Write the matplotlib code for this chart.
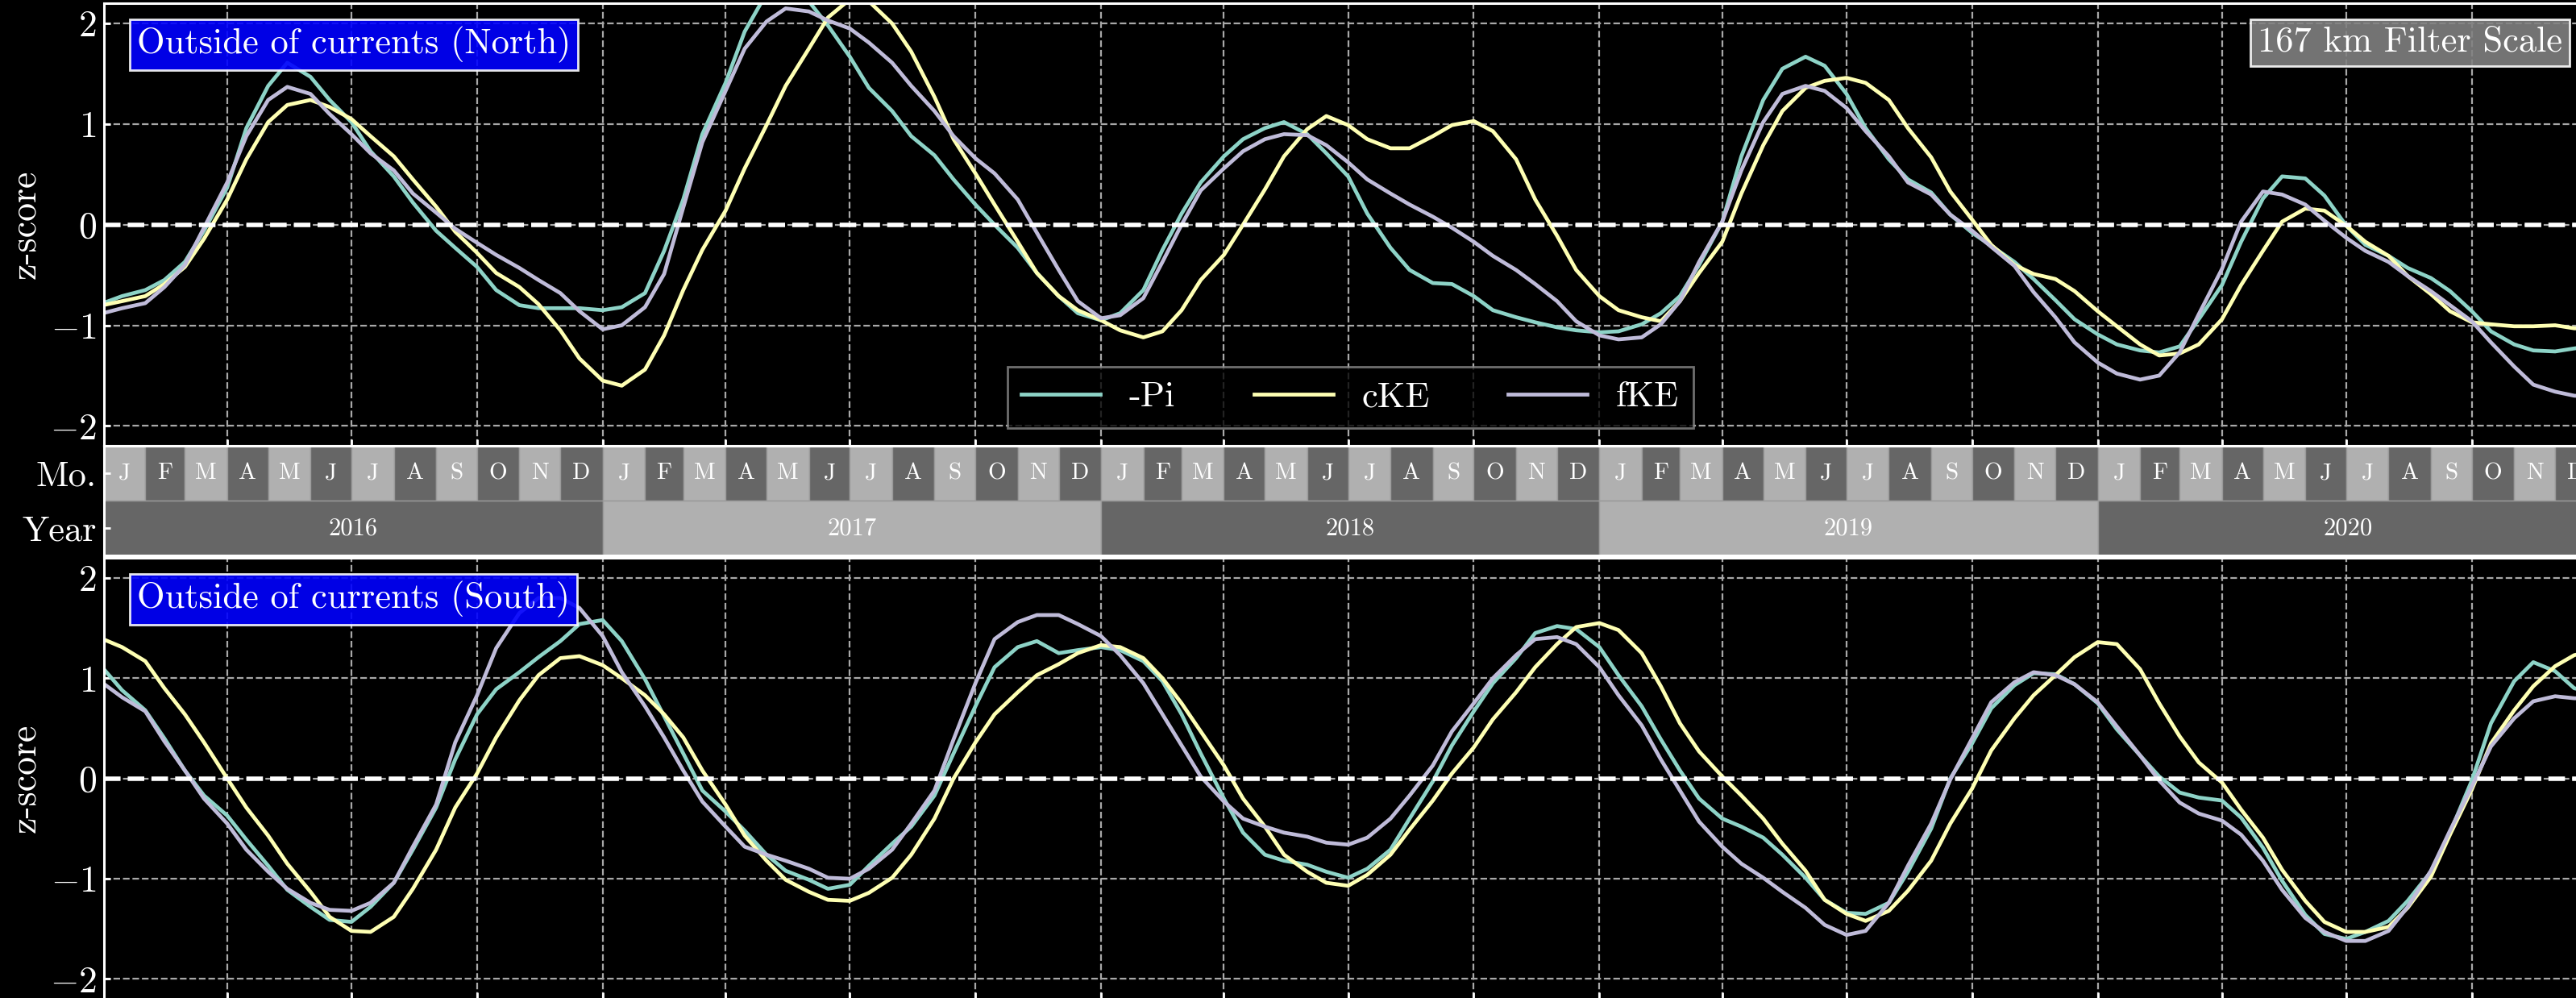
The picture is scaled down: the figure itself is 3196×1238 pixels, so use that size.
import numpy as np
import pandas as pd
import matplotlib
matplotlib.use("Agg")
import matplotlib.pyplot as plt
import matplotlib.dates as mdates
from matplotlib.ticker import FuncFormatter

plt.style.use("dark_background")
plt.rcParams["font.family"] = ["cmr10"]
plt.rcParams["mathtext.fontset"] = "cm"
plt.rcParams["axes.formatter.use_mathtext"] = True
plt.rcParams["axes.linewidth"] = 1.1

# Semi-monthly sample dates (1st and 15th of each month), Jan 2016 - Jan 2021
dates = pd.date_range("2016-01-01", periods=121, freq="SMS")

series_names = ["-Pi", "cKE", "fKE"]
series_colors = ["#8dd3c7", "#feffb3", "#bfbbd9"]

# ---- Outside of currents (North): z-scores, one row per half year (12 samples) ----
pi_north = [
    -0.78, -0.71, -0.65, -0.55, -0.37, -0.06, 0.37, 0.96, 1.38, 1.61, 1.47, 1.24,
    1.02, 0.73, 0.48, 0.22, -0.06, -0.23, -0.42, -0.65, -0.80, -0.83, -0.83, -0.83,
    -0.85, -0.82, -0.68, -0.26, 0.25, 0.90, 1.41, 1.92, 2.30, 2.35, 2.22, 1.98,
    1.67, 1.36, 1.13, 0.88, 0.69, 0.45, 0.20, 0.00, -0.23, -0.48, -0.71, -0.88,
    -0.95, -0.88, -0.65, -0.25, 0.11, 0.42, 0.68, 0.85, 0.96, 1.02, 0.90, 0.71,
    0.48, 0.11, -0.23, -0.45, -0.58, -0.59, -0.71, -0.85, -0.92, -0.97, -1.02, -1.05,
    -1.07, -1.06, -0.99, -0.88, -0.71, -0.40, 0.03, 0.68, 1.24, 1.55, 1.67, 1.58,
    1.30, 0.96, 0.65, 0.45, 0.32, 0.10, -0.08, -0.21, -0.37, -0.54, -0.75, -0.94,
    -1.09, -1.19, -1.25, -1.27, -1.21, -0.94, -0.60, -0.17, 0.26, 0.48, 0.46, 0.29,
    -0.01, -0.20, -0.31, -0.43, -0.53, -0.66, -0.86, -1.06, -1.19, -1.25, -1.26, -1.23,
    -1.20,
]
cke_north = [
    -0.80, -0.76, -0.71, -0.59, -0.42, -0.14, 0.25, 0.65, 1.02, 1.19, 1.24, 1.17,
    1.05, 0.88, 0.68, 0.45, 0.18, -0.07, -0.28, -0.48, -0.62, -0.79, -1.05, -1.33,
    -1.55, -1.60, -1.44, -1.10, -0.65, -0.25, 0.14, 0.56, 0.99, 1.38, 1.75, 2.06,
    2.24, 2.22, 2.00, 1.72, 1.27, 0.85, 0.51, 0.20, -0.17, -0.48, -0.71, -0.85,
    -0.95, -1.05, -1.12, -1.06, -0.85, -0.55, -0.30, 0.00, 0.35, 0.68, 0.95, 1.08,
    0.99, 0.85, 0.76, 0.76, 0.88, 0.99, 1.03, 0.93, 0.65, 0.25, -0.11, -0.45,
    -0.71, -0.85, -0.92, -0.96, -0.76, -0.48, -0.17, 0.31, 0.79, 1.13, 1.36, 1.43,
    1.46, 1.41, 1.24, 0.96, 0.67, 0.33, 0.05, -0.20, -0.40, -0.49, -0.54, -0.66,
    -0.86, -1.01, -1.19, -1.30, -1.28, -1.19, -0.94, -0.60, -0.26, 0.03, 0.16, 0.14,
    -0.01, -0.17, -0.31, -0.51, -0.69, -0.86, -0.97, -0.99, -1.01, -1.01, -1.00, -1.03,
    -1.03,
]
fke_north = [
    -0.88, -0.83, -0.78, -0.62, -0.40, -0.03, 0.42, 0.88, 1.24, 1.37, 1.30, 1.10,
    0.90, 0.71, 0.54, 0.31, 0.12, -0.04, -0.18, -0.30, -0.43, -0.55, -0.68, -0.86,
    -1.04, -1.00, -0.82, -0.49, 0.17, 0.82, 1.33, 1.75, 2.02, 2.15, 2.12, 2.03,
    1.95, 1.81, 1.61, 1.38, 1.13, 0.88, 0.66, 0.51, 0.25, -0.08, -0.45, -0.76,
    -0.93, -0.90, -0.73, -0.37, 0.00, 0.34, 0.56, 0.73, 0.85, 0.90, 0.89, 0.79,
    0.62, 0.45, 0.31, 0.20, 0.08, -0.03, -0.17, -0.31, -0.45, -0.59, -0.76, -0.96,
    -1.10, -1.14, -1.12, -0.99, -0.76, -0.37, 0.03, 0.54, 1.02, 1.30, 1.38, 1.33,
    1.16, 0.93, 0.68, 0.42, 0.30, 0.10, -0.06, -0.22, -0.41, -0.67, -0.92, -1.17,
    -1.37, -1.48, -1.54, -1.50, -1.27, -0.89, -0.44, 0.03, 0.33, 0.30, 0.20, 0.04,
    -0.13, -0.26, -0.37, -0.51, -0.66, -0.80, -0.96, -1.17, -1.41, -1.59, -1.66, -1.70,
    -1.71,
]

# ---- Outside of currents (South) ----
pi_south = [
    1.10, 0.88, 0.68, 0.40, 0.08, -0.17, -0.37, -0.61, -0.87, -1.11, -1.28, -1.41,
    -1.43, -1.28, -1.04, -0.71, -0.29, 0.19, 0.64, 0.89, 1.06, 1.21, 1.37, 1.54,
    1.58, 1.37, 0.99, 0.62, 0.25, -0.12, -0.33, -0.52, -0.76, -0.92, -1.01, -1.10,
    -1.06, -0.87, -0.65, -0.48, -0.17, 0.25, 0.72, 1.11, 1.31, 1.37, 1.25, 1.28,
    1.31, 1.28, 1.17, 0.97, 0.64, 0.25, -0.20, -0.54, -0.76, -0.82, -0.86, -0.93,
    -0.99, -0.90, -0.71, -0.40, -0.03, 0.33, 0.67, 0.95, 1.20, 1.45, 1.52, 1.49,
    1.31, 1.03, 0.72, 0.39, 0.08, -0.20, -0.40, -0.48, -0.59, -0.76, -0.99, -1.21,
    -1.34, -1.35, -1.24, -0.93, -0.50, 0.00, 0.35, 0.70, 0.93, 1.05, 1.04, 0.94,
    0.75, 0.49, 0.23, 0.02, -0.14, -0.19, -0.22, -0.39, -0.69, -1.02, -1.36, -1.55,
    -1.60, -1.53, -1.42, -1.22, -0.93, -0.54, -0.02, 0.55, 0.97, 1.16, 1.07, 0.90,
    0.85,
]
cke_south = [
    1.39, 1.31, 1.17, 0.90, 0.64, 0.36, 0.00, -0.29, -0.57, -0.85, -1.13, -1.38,
    -1.52, -1.53, -1.38, -1.10, -0.71, -0.29, 0.05, 0.41, 0.78, 1.03, 1.20, 1.22,
    1.13, 1.00, 0.83, 0.64, 0.41, 0.08, -0.26, -0.57, -0.82, -1.01, -1.13, -1.21,
    -1.22, -1.14, -0.99, -0.76, -0.40, 0.00, 0.36, 0.64, 0.86, 1.03, 1.14, 1.25,
    1.33, 1.31, 1.20, 1.00, 0.75, 0.47, 0.13, -0.20, -0.48, -0.76, -0.93, -1.04,
    -1.07, -0.96, -0.76, -0.51, -0.22, 0.05, 0.31, 0.59, 0.86, 1.11, 1.34, 1.51,
    1.55, 1.48, 1.25, 0.92, 0.55, 0.27, 0.02, -0.17, -0.40, -0.65, -0.92, -1.21,
    -1.35, -1.42, -1.32, -1.12, -0.82, -0.45, -0.10, 0.28, 0.60, 0.83, 1.03, 1.21,
    1.36, 1.34, 1.09, 0.75, 0.42, 0.16, -0.04, -0.31, -0.59, -0.91, -1.22, -1.43,
    -1.53, -1.53, -1.48, -1.29, -0.98, -0.56, -0.11, 0.35, 0.68, 0.92, 1.12, 1.23,
    1.28,
]
fke_south = [
    0.95, 0.81, 0.67, 0.37, 0.08, -0.20, -0.45, -0.71, -0.93, -1.10, -1.24, -1.31,
    -1.32, -1.24, -1.04, -0.68, -0.26, 0.36, 0.83, 1.30, 1.65, 1.80, 1.80, 1.70,
    1.42, 1.06, 0.72, 0.41, 0.08, -0.23, -0.48, -0.68, -0.76, -0.82, -0.90, -0.99,
    -1.00, -0.90, -0.71, -0.45, -0.12, 0.39, 0.95, 1.39, 1.56, 1.63, 1.63, 1.54,
    1.42, 1.23, 0.95, 0.64, 0.33, 0.02, -0.23, -0.40, -0.48, -0.54, -0.58, -0.64,
    -0.66, -0.59, -0.40, -0.17, 0.13, 0.47, 0.75, 1.00, 1.23, 1.39, 1.41, 1.34,
    1.11, 0.83, 0.53, 0.19, -0.12, -0.43, -0.68, -0.85, -0.99, -1.13, -1.29, -1.46,
    -1.56, -1.52, -1.24, -0.87, -0.45, -0.01, 0.40, 0.76, 0.96, 1.06, 1.03, 0.94,
    0.76, 0.52, 0.23, -0.02, -0.24, -0.35, -0.42, -0.56, -0.82, -1.11, -1.39, -1.53,
    -1.62, -1.62, -1.52, -1.28, -0.92, -0.52, -0.08, 0.32, 0.60, 0.77, 0.82, 0.80,
    0.80,
]

region_titles = ["Outside of currents (North)", "Outside of currents (South)"]
filter_label = "167 km Filter Scale"

month_letters = ["J", "F", "M", "A", "M", "J", "J", "A", "S", "O", "N", "D"]
years = [2016, 2017, 2018, 2019, 2020]

light_gray = "#b0b0b0"
dark_gray = "#666666"
grid_color = "#a8a8a8"

x_start = pd.Timestamp("2016-01-02")
x_end = pd.Timestamp("2020-12-31")

big = 16

fig = plt.figure(figsize=(15.98, 6.19), dpi=200)
left, width = 0.0405, 0.9673
ax_n = fig.add_axes([left, 0.5531, width, 0.4435])
ax_m = fig.add_axes([left, 0.4432, width, 0.1099])
ax_s = fig.add_axes([left, -0.0011, width, 0.4421])


def style_panel(ax, series, title):
    for vals, name, col in zip(series, series_names, series_colors):
        ax.plot(dates, vals, color=col, lw=1.7, label=name, zorder=2)
    ax.axhline(0, color="white", ls="--", lw=2.0, zorder=3)
    ax.set_xlim(x_start, x_end)
    ax.set_ylim(-2.2, 2.2)
    ax.set_yticks([-2, -1, 0, 1, 2])
    ax.yaxis.set_major_formatter(FuncFormatter(lambda v, p: f"${v:.0f}$"))
    ax.xaxis.set_major_locator(mdates.MonthLocator(bymonth=[1, 4, 7, 10]))
    ax.grid(True, which="major", ls="--", lw=0.8, color=grid_color)
    ax.set_axisbelow(True)
    ax.tick_params(axis="both", direction="in", length=3, width=1.0,
                   color="white", labelsize=big + 0.5)
    ax.tick_params(axis="x", labelbottom=False)
    ax.set_ylabel("z-score", fontsize=big + 0.5)
    ax.yaxis.set_label_coords(-0.025, 0.5)
    for sp in ax.spines.values():
        sp.set_color("white")
    ax.text(0.0131, 0.948, title, transform=ax.transAxes, ha="left", va="top",
            fontsize=big, color="white", zorder=5,
            bbox=dict(boxstyle="square,pad=0.2", facecolor="blue",
                      edgecolor="white", alpha=0.9, lw=1.0))


style_panel(ax_n, [pi_north, cke_north, fke_north], region_titles[0])
style_panel(ax_s, [pi_south, cke_south, fke_south], region_titles[1])

ax_n.text(0.9864, 0.948, filter_label, transform=ax_n.transAxes, ha="right",
          va="top", fontsize=big, color="white", zorder=5,
          bbox=dict(boxstyle="square,pad=0.2", facecolor="gray",
                    edgecolor="white", alpha=0.9, lw=1.0))

leg = ax_n.legend(loc="lower center", ncol=3, fontsize=big, fancybox=False,
                  edgecolor="#8a8a8a", facecolor="black", framealpha=0.8,
                  handlelength=2.2, columnspacing=2.2)
leg.set_zorder(6)

# ---- month / year strip ----
month_starts = pd.date_range("2016-01-01", "2021-01-01", freq="MS")
m_left = mdates.date2num(month_starts[:-1])
m_width = np.diff(mdates.date2num(month_starts))
m_colors = [light_gray if d.month % 2 == 1 else dark_gray for d in month_starts[:-1]]
ax_m.bar(m_left, 1, width=m_width, bottom=1, align="edge", color=m_colors,
         edgecolor="#9a9a9a", lw=0.5)
for x0, w, d in zip(m_left, m_width, month_starts[:-1]):
    ax_m.text(x0 + w / 2, 1.5, month_letters[d.month - 1], ha="center",
              va="center", fontsize=10.5, color="white", clip_on=True)

year_starts = pd.to_datetime([f"{y}-01-01" for y in years + [years[-1] + 1]])
y_left = mdates.date2num(year_starts[:-1])
y_width = np.diff(mdates.date2num(year_starts))
y_colors = [dark_gray if y % 2 == 0 else light_gray for y in years]
ax_m.bar(y_left, 1, width=y_width, bottom=0, align="edge", color=y_colors,
         edgecolor="#9a9a9a", lw=0.5)
for x0, w, y in zip(y_left, y_width, years):
    ax_m.text(x0 + w / 2, 0.5, str(y), ha="center", va="center",
              fontsize=11, color="white")

ax_m.set_xlim(x_start, x_end)
ax_m.set_ylim(0, 2)
ax_m.set_yticks([0.5, 1.5])
ax_m.set_yticklabels(["Year", "Mo."])
ax_m.tick_params(axis="y", direction="in", length=3, width=1.0, color="white",
                 labelsize=big)
ax_m.tick_params(axis="x", bottom=False, labelbottom=False)
for sp in ax_m.spines.values():
    sp.set_color("white")

fig.savefig("out.png", dpi=200, facecolor="black")
